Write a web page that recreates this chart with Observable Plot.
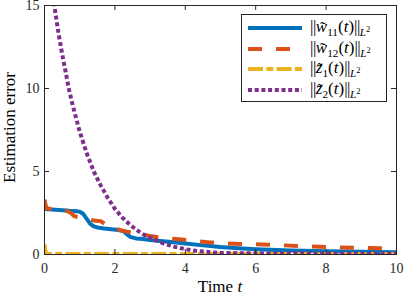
<!DOCTYPE html>
<html><head><meta charset="utf-8">
<script src="https://cdn.jsdelivr.net/npm/d3@7"></script>
<script src="https://cdn.jsdelivr.net/npm/@observablehq/plot@0.6"></script>
<style>
body{margin:0;background:#fff;}
#wrap{position:relative;width:407px;height:296px;font-family:"Liberation Serif","Times New Roman",serif;color:#262626;}
#chart svg, #chart svg text{font-family:"Liberation Serif","Times New Roman",serif !important;}
#chart svg{overflow:visible;}
#legend{position:absolute;left:241px;top:14px;width:146px;height:88px;border:1px solid #262626;background:#fff;box-sizing:border-box;}
.row{position:absolute;left:0;height:20px;width:100%;}
.row > svg{position:absolute;left:6px;top:4px;}
.row > .lab{position:absolute;left:68px;top:-1px;font-size:17px;line-height:20px;white-space:nowrap;color:#000;}
sub{font-size:66%;vertical-align:-0.35em;line-height:0;}
sup{font-size:75%;vertical-align:0.45em;line-height:0;}
.bar{letter-spacing:-0.5px;}
#xlab{position:absolute;left:0;width:407px;top:277px;text-align:center;font-size:17px;padding-left:33px;box-sizing:border-box;color:#000;}
#ylab{position:absolute;left:-56px;top:119px;width:130px;text-align:center;font-size:17px;line-height:17px;transform:rotate(-90deg);color:#000;}
</style>
</head><body>
<div id="wrap"><div id="chart"></div>
<div id="xlab">Time <i>t</i></div>
<div id="ylab">Estimation error</div>
<div id="legend"></div>
</div>
<script>
const xTicks = [0, 2, 4, 6, 8, 10];
const yTicks = [0, 5, 10, 15];

const w11T = [0, 0.1, 0.3, 0.5, 0.7, 0.9, 1.0, 1.1, 1.2, 1.3, 1.4, 1.5, 1.7, 1.9, 2.1, 2.25, 2.35, 2.45, 2.6, 2.8, 3.0, 3.3, 3.6, 4.0, 4.5, 5.0, 5.5, 6.0, 7.0, 8.0, 9.0, 10];
const w11V = [2.75, 2.72, 2.7, 2.67, 2.63, 2.6, 2.57, 2.45, 2.15, 1.85, 1.7, 1.63, 1.57, 1.52, 1.47, 1.4, 1.2, 1.05, 0.97, 0.93, 0.88, 0.82, 0.75, 0.66, 0.55, 0.45, 0.38, 0.32, 0.24, 0.19, 0.16, 0.14];

const w12T = [0, 0.03, 0.06, 0.2, 0.4, 0.6, 0.75, 0.85, 0.95, 1.05, 1.2, 1.4, 1.6, 1.8, 2.0, 2.2, 2.4, 2.6, 2.8, 3.0, 3.3, 3.6, 3.9, 4.3, 4.7, 5.2, 5.7, 6.2, 6.8, 7.5, 8.2, 9.0, 10];
const w12V = [3.3, 3.0, 2.78, 2.74, 2.7, 2.66, 2.5, 2.3, 2.25, 2.15, 2.08, 2.05, 2.0, 1.75, 1.55, 1.45, 1.35, 1.27, 1.2, 1.12, 1.02, 0.96, 0.9, 0.8, 0.73, 0.67, 0.63, 0.6, 0.55, 0.49, 0.43, 0.39, 0.37];

const z1T = [0, 0.02, 0.05, 0.1, 1, 2, 4, 6, 8, 10];
const z1V = [0.6, 0.3, 0.05, 0.03, 0.03, 0.03, 0.03, 0.03, 0.03, 0.03];

const z2T = [0, 0.1, 0.2, 0.3, 0.4, 0.5, 0.6, 0.7, 0.8, 0.9, 1.0, 1.2, 1.4, 1.6, 1.8, 2.0, 2.2, 2.4, 2.6, 2.8, 3.0, 3.2, 3.4, 3.7, 4.0, 4.3, 4.7, 5.0, 5.5, 6, 7, 8, 9, 10];
const z2V = [20, 18, 16.2, 14.7, 13.3, 12.1, 11, 9.9, 9.0, 8.2, 7.4, 6.1, 5.0, 4.15, 3.4, 2.75, 2.25, 1.85, 1.5, 1.22, 1.0, 0.82, 0.65, 0.46, 0.32, 0.22, 0.14, 0.1, 0.08, 0.07, 0.06, 0.05, 0.05, 0.05];

const norm = (v, s) => `<span class="bar">||</span>${v}<sub>${s}</sub>(<i>t</i>)<span class="bar">||</span><sub><i>L</i><sup>2</sup></sub>`;
const series = [
  {t: w11T, v: w11V, color: "#0072BD", dash: null, label: norm('<i>w̃</i>', '11')},
  {t: w12T, v: w12V, color: "#D95319", dash: "14,14", label: norm('<i>w̃</i>', '12')},
  {t: z1T, v: z1V, color: "#EDB120", dash: "15,3.3,7,3.3", label: norm('<i>z̃</i>', '1')},
  {t: z2T, v: z2V, color: "#7E2F8E", dash: "4,2.7", label: norm('<i>z̃</i>', '2')}
];

const W = 407, H = 296, mL = 44, mR = 11, mT = 5, mB = 42;
const pw = W - mL - mR, ph = H - mT - mB, tk = 5;
const axisColor = "#262626";

const lineMarks = series.map(s => Plot.line(s.t.map((t, i) => ({t, v: s.v[i]})), {
  x: "t", y: "v", stroke: s.color, strokeWidth: 4, strokeDasharray: s.dash, clip: true, strokeLinecap: "butt"
}));

const plot = Plot.plot({
  width: W, height: H,
  marginLeft: mL, marginRight: mR, marginTop: mT, marginBottom: mB,
  style: {fontFamily: "'Liberation Serif', 'Times New Roman', serif", fontSize: "14px", color: axisColor, background: "#fff", overflow: "visible"},
  x: {domain: [0, 10]},
  y: {domain: [0, 15]},
  marks: [
    ...lineMarks,
    Plot.axisX(xTicks, {tickSize: 0, tickPadding: 9, fontSize: 14, fill: "#262626", label: null}),
    Plot.axisY(yTicks, {tickSize: 0, tickPadding: 5, fontSize: 14, fill: "#262626", label: null}),
    Plot.ruleX(xTicks, {x: d => d, insetTop: ph - tk, stroke: axisColor}),
    Plot.ruleX(xTicks, {x: d => d, insetBottom: ph - tk, stroke: axisColor}),
    Plot.ruleY(yTicks, {y: d => d, insetRight: pw - tk, stroke: axisColor}),
    Plot.ruleY(yTicks, {y: d => d, insetLeft: pw - tk, stroke: axisColor}),
    Plot.frame({stroke: axisColor, strokeWidth: 1})
  ]
});
document.getElementById("chart").appendChild(plot);

const leg = document.getElementById("legend");
series.forEach((s, i) => {
  const row = document.createElement("div");
  row.className = "row";
  row.style.top = (3 + i * 20.6) + "px";
  row.innerHTML = `<svg width="54" height="12"><line x1="0" x2="54" y1="6" y2="6" stroke="${s.color}" stroke-width="4" ${s.dash ? `stroke-dasharray="${s.dash}"` : ""}/></svg><span class="lab">${s.label}</span>`;
  leg.appendChild(row);
});
</script>
</body></html>
